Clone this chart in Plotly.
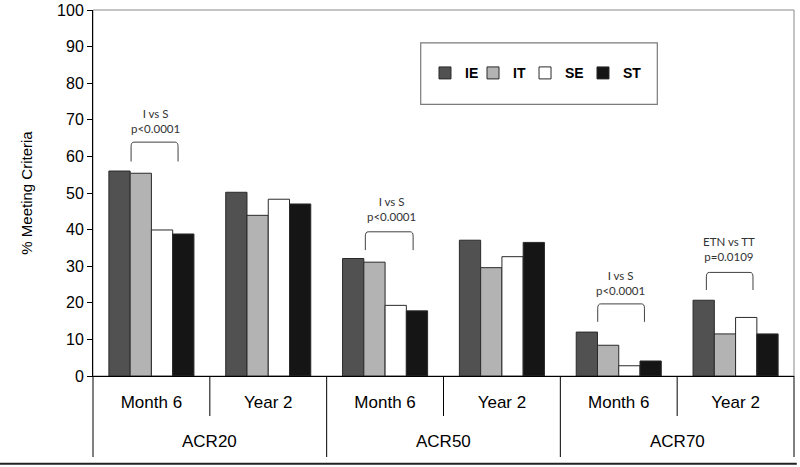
import plotly.graph_objects as go

# ---- data ----
outer_cats = ["ACR20", "ACR50", "ACR70"]
inner_cats = ["Month 6", "Year 2", "Month 6", "Year 2", "Month 6", "Year 2"]
series_names = ["IE", "IT", "SE", "ST"]
ie_vals = [56.0, 50.2, 32.1, 37.1, 12.0, 20.7]
it_vals = [55.4, 43.9, 31.1, 29.6, 8.4, 11.5]
se_vals = [39.9, 48.3, 19.3, 32.6, 2.8, 16.0]
st_vals = [38.8, 47.0, 17.8, 36.5, 4.1, 11.5]
series_colors = ["#515151", "#b3b3b3", "#ffffff", "#151515"]

# comparison annotations: category index, label text, bracket y (top/end), text y
cmp_index = [0, 2, 4, 5]
cmp_text = ["I vs S<br>p&lt;0.0001", "I vs S<br>p&lt;0.0001",
            "I vs S<br>p&lt;0.0001", "ETN vs TT<br>p=0.0109"]
cmp_bracket_top = [63.9, 39.4, 19.7, 28.3]
cmp_bracket_end = [58.6, 34.4, 14.8, 23.5]
cmp_text_y = [69.7, 45.7, 25.4, 34.6]
cmp_x0 = [-0.174, -0.169, -0.18, -0.25]
cmp_x1 = [0.228, 0.24, 0.22, 0.149]
cmp_text_dx = [0.037, 0.051, 0.017, -0.057]

y_ticks = list(range(0, 101, 10))

AX_FONT = "Liberation Sans, Arial, sans-serif"
n_cat = len(inner_cats)
cat_pos = list(range(n_cat))

legend_ids = ["legend", "legend2", "legend3", "legend4"]
legend_x = [0.4736, 0.5421, 0.6163, 0.6990]

fig = go.Figure()
for name, vals, col, lid in zip(series_names, [ie_vals, it_vals, se_vals, st_vals], series_colors, legend_ids):
    fig.add_trace(go.Bar(
        x=cat_pos, y=vals, name=name, legend=lid, showlegend=True,
        marker=dict(color=col, line=dict(color="#2a2a2a", width=1)),
    ))

def to_paper(xval):
    return (xval + 0.5) / n_cat

PLOT_H = 366.0

shapes = []
# plot frame (top/right)
shapes.append(dict(type="rect", xref="paper", yref="paper", x0=0, x1=1, y0=0, y1=1,
                   line=dict(color="#8a8a8a", width=1), layer="below"))
# legend box
shapes.append(dict(type="rect", xref="paper", yref="paper", x0=0.4675, x1=0.805, y0=0.742, y1=0.91,
                   line=dict(color="#7a7a7a", width=1.2), fillcolor="white", layer="below"))
# bottom rule
shapes.append(dict(type="line", xref="paper", yref="paper", x0=-0.14, x1=1.004, y0=-0.24, y1=-0.24,
                   line=dict(color="#222222", width=2)))
# category dividers below the axis
n_outer = len(outer_cats)
per_outer = n_cat // n_outer
for b in range(n_cat + 1):
    xb = b - 0.5
    is_outer = (b % per_outer == 0)
    depth = 81 if is_outer else 40
    shapes.append(dict(type="line", xref="paper", yref="paper", x0=to_paper(xb), x1=to_paper(xb),
                       y0=0, y1=-depth / PLOT_H, line=dict(color="#000000", width=1)))

annotations = []
for idx, txt, yt, ye, ty, a, b, tdx in zip(cmp_index, cmp_text, cmp_bracket_top, cmp_bracket_end,
                                           cmp_text_y, cmp_x0, cmp_x1, cmp_text_dx):
    xa, xb = idx + a, idx + b
    r = 0.025
    path = (f"M {xa},{ye} L {xa},{yt-1.2} Q {xa},{yt} {xa+r},{yt} "
            f"L {xb-r},{yt} Q {xb},{yt} {xb},{yt-1.2} L {xb},{ye}")
    shapes.append(dict(type="path", xref="x", yref="y", path=path,
                       line=dict(color="#404040", width=1)))
    annotations.append(dict(xref="x", yref="y", x=idx + tdx, y=ty, text=txt,
                            xanchor="center", yanchor="middle",
                            showarrow=False, font=dict(family="Lato, sans-serif", size=11.5, color="#333333"),
                            align="center"))

# outer category labels
for k, lab in enumerate(outer_cats):
    annotations.append(dict(xref="x", yref="paper", x=k * per_outer + (per_outer - 1) / 2,
                            y=-65.7 / PLOT_H, text=lab, showarrow=False,
                            xanchor="center", yanchor="middle",
                            font=dict(family=AX_FONT, size=17, color="#000000")))

legend_style = dict(orientation="h", xanchor="left", y=0.827, yanchor="middle",
                    bgcolor="rgba(0,0,0,0)", borderwidth=0, visible=True,
                    font=dict(family=AX_FONT, size=14, color="#000000", weight="bold"))
legends = {lid: dict(x=lx, **legend_style) for lid, lx in zip(legend_ids, legend_x)}

fig.update_layout(
    width=800, height=467,
    margin=dict(l=93, r=6, t=10, b=91),
    paper_bgcolor="white", plot_bgcolor="white",
    barmode="group", bargap=0.272, bargroupgap=0,
    showlegend=True,
    shapes=shapes, annotations=annotations,
    font=dict(family=AX_FONT, color="#000000"),
    **legends,
)
fig.update_yaxes(range=[0, 100], tickvals=y_ticks, showgrid=False, zeroline=False,
                 automargin=False,
                 showline=True, linecolor="#000000", linewidth=1,
                 ticks="outside", ticklen=5, tickcolor="#000000",
                 tickfont=dict(family=AX_FONT, size=16, color="#000000"),
                 title=dict(text="% Meeting Criteria", font=dict(family=AX_FONT, size=15, color="#000000"),
                            standoff=20))
fig.update_xaxes(range=[-0.5, n_cat - 0.5], tickvals=cat_pos, ticktext=inner_cats,
                 showgrid=False, zeroline=False, automargin=False,
                 showline=True, linecolor="#000000", linewidth=1,
                 ticks="", ticklabelstandoff=11,
                 tickfont=dict(family=AX_FONT, size=17, color="#000000"))

fig.write_html("out.html", config={"displayModeBar": False},
               post_script="document.body.style.margin='0px';")
